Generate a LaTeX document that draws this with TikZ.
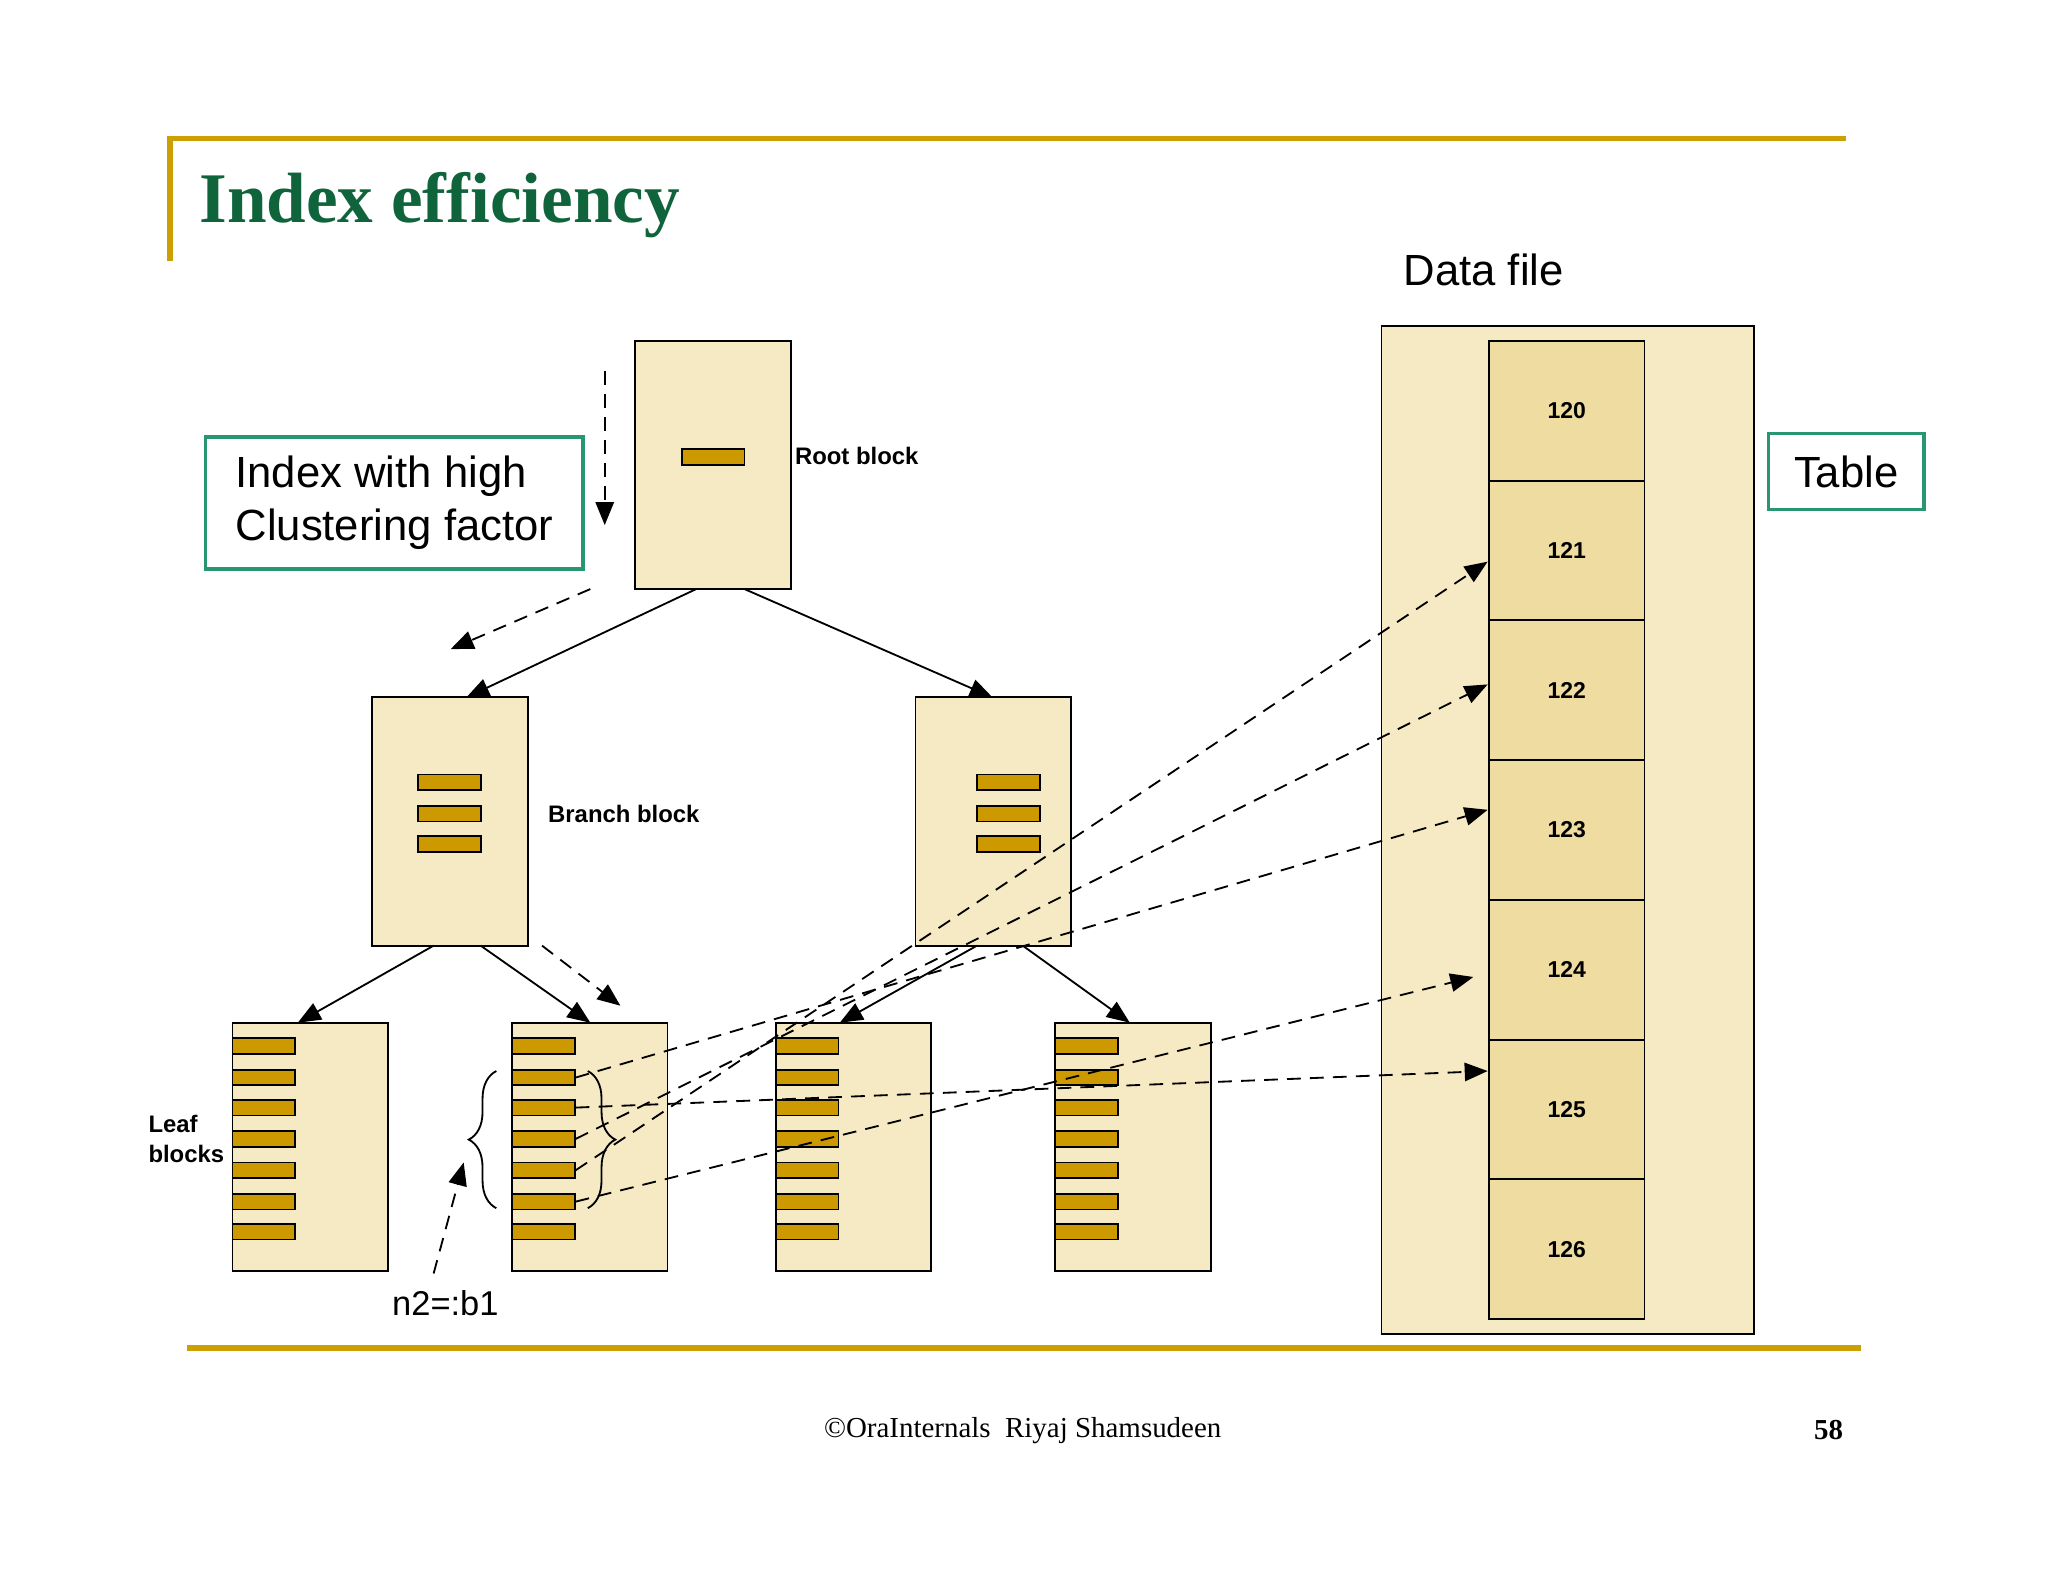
\documentclass[tikz,border=0pt]{standalone}
\usepackage{fontspec}
\setmainfont{Liberation Serif}
\setsansfont{Liberation Sans}
\usetikzlibrary{arrows.meta,decorations.pathreplacing}
\definecolor{blockColor}{RGB}{246,234,196}
\definecolor{cellColor}{RGB}{238,220,160}
\definecolor{barColor}{RGB}{204,153,0}
\definecolor{lineColor}{RGB}{204,160,0}
\definecolor{titleColor}{RGB}{16,100,60}
\definecolor{boxColor}{RGB}{40,150,110}

\begin{document}
\begin{tikzpicture}[x=0.01cm, y=-0.01cm,
    block/.style={rectangle, draw, fill=blockColor, minimum width=1.19cm, minimum height=1.9cm, inner sep=0pt},
    bar/.style={rectangle, draw, fill=barColor, minimum width=0.48cm, minimum height=0.12cm, inner sep=0pt},
    cell/.style={rectangle, draw, fill=cellColor, minimum width=1.19cm, minimum height=1.07cm, font=\sffamily\bfseries\fontsize{5}{6}\selectfont},
    lbl/.style={font=\sffamily\bfseries\fontsize{5.2}{6.5}\selectfont, align=left, inner sep=0pt},
    tree/.style={-{Triangle[length=5pt,width=4pt]}},
    ref/.style={densely dashed, -{Triangle[length=5pt,width=4pt]}}]
    \useasboundingbox (0,0) rectangle (1568,1211);
    % frame lines
    \draw[lineColor, line width=1.2pt] (130,200) -- (130,106) -- (1413,106);
    \draw[lineColor, line width=1.2pt] (143,1032) -- (1425,1032);
    \node[anchor=west, text=titleColor, font=\bfseries\fontsize{15.5}{18}\selectfont, inner sep=0pt] (title) at (152,157) {Index efficiency};
    \node[font=\fontsize{6.3}{7.5}\selectfont] (foot) at (783,1095) {\textcopyright OraInternals\ \ Riyaj Shamsudeen};
    \node[font=\bfseries\fontsize{6.3}{7.5}\selectfont] (page) at (1400,1095) {58};

    % index tree
    \node[block] (root) at (546,356) {};
    \node[bar] (rootbar) at (546,350) {};
    \node[lbl, anchor=west] (rootlbl) at (608,349) {Root block};
    \node[block] (brl) at (344.5,629) {};
    \node[block] (brr) at (760.5,629) {};
    \foreach \y [count=\i] in {599,623,646} {
        \node[bar] (brlb\i) at (344,\y) {};
        \node[bar] (brrb\i) at (772,\y) {};
    }
    \node[lbl, anchor=west] (brlbl) at (419,623) {Branch block};
    \foreach \x [count=\j] in {178,392,594,808} {
        \node[block] (leaf\j) at (\x+59.5,878) {};
        \foreach \y [count=\i] in {801,825,848,872,896,920,943}
            \node[bar] (l\j b\i) at (\x+24,\y) {};
    }
    \node[lbl, anchor=west] (leaflbl) at (113,872) {Leaf\\blocks};

    \draw[tree] (533,451) -- (357,534);
    \draw[tree] (570,451) -- (760,534);
    \draw[tree] (332,724) -- (228,783);
    \draw[tree] (368,724) -- (452,783);
    \draw[tree] (748,724) -- (643,783);
    \draw[tree] (783,724) -- (865,783);

    % search path
    \coordinate (p1) at (463,284); \coordinate (p2) at (463,402);
    \coordinate (p3) at (452,451); \coordinate (p4) at (345,497);
    \coordinate (p5) at (415,724); \coordinate (p6) at (475,770);
    \draw[ref] (p1) -- (p2);
    \draw[ref] (p3) -- (p4);
    \draw[ref] (p5) -- (p6);

    \node[draw=boxColor, thick, minimum width=2.89cm, minimum height=1.01cm, anchor=north west, align=left,
          font=\sffamily\fontsize{9.5}{11.5}\selectfont, inner sep=3pt] (hcf) at (156,333) {Index with high\\Clustering factor};

    % data file
    \node[rectangle, draw, fill=blockColor, minimum width=2.85cm, minimum height=7.71cm, anchor=north west] (dfile) at (1057,249) {};
    \node[font=\sffamily\fontsize{9.5}{11}\selectfont] (dlbl) at (1136,207) {Data file};
    \foreach \n [count=\i] in {120,...,126}
        \node[cell] (c\n) at (1199.5,261+107*\i-53.5) {\n};
    \node[draw=boxColor, thick, font=\sffamily\fontsize{9.5}{11}\selectfont, minimum width=1.19cm, minimum height=0.58cm] (tbl) at (1413.5,361) {Table};

    % braces
    \draw[decorate, decoration={brace, amplitude=6pt}] (380,925) -- (380,820);
    \draw[decorate, decoration={brace, amplitude=6pt}] (450,820) -- (450,925);
    \node[font=\sffamily\fontsize{7.5}{9}\selectfont] (n2) at (341,998) {n2=:b1};
    \coordinate (n2tail) at (332,975);
    \coordinate (n2tip) at (355,890);
    \draw[ref] (n2tail) -- (n2tip);

    % rowid lookups
    \coordinate (t121) at (1139,430);
    \coordinate (t122) at (1139,524);
    \coordinate (t123) at (1139,620);
    \coordinate (t124) at (1128,748);
    \coordinate (t125) at (1139,820);
    \draw[ref] (l2b2.east) -- (t123);
    \draw[ref] (l2b3.east) -- (t125);
    \draw[ref] (l2b4.east) -- (t122);
    \draw[ref] (l2b5.east) -- (t121);
    \draw[ref] (l2b6.east) -- (t124);
\end{tikzpicture}
\end{document}
